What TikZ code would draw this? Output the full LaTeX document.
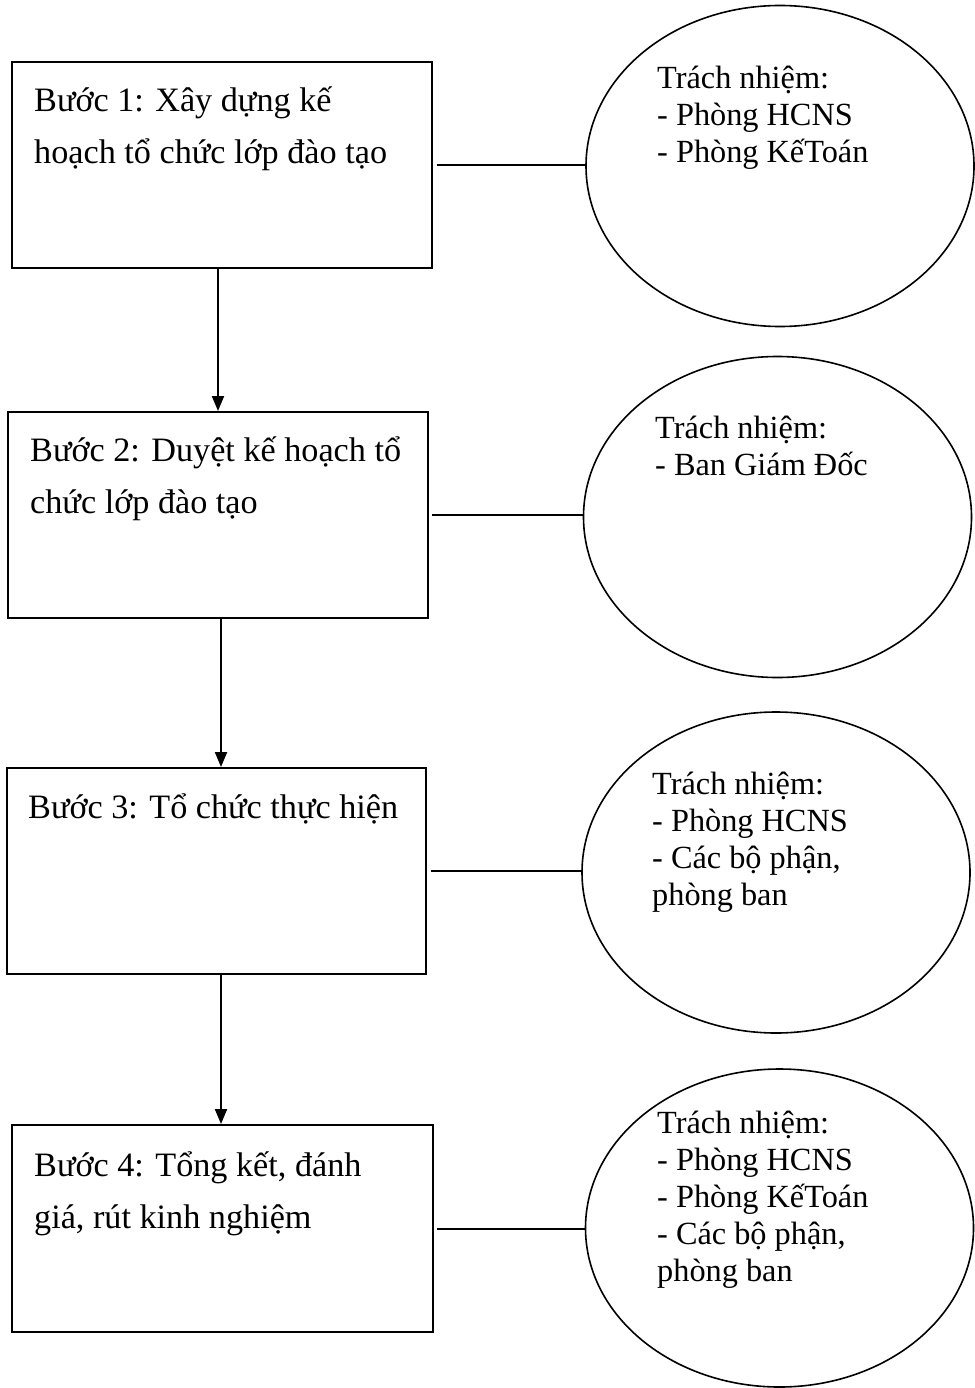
\documentclass[tikz,border=0pt]{standalone}
\usepackage{fontspec}
\setmainfont{Liberation Serif}
\usetikzlibrary{arrows.meta,shapes.geometric}
\begin{document}
\begin{tikzpicture}[x=1pt,y=-1pt,
  stepbox/.style={draw,line width=2pt,rectangle,inner sep=0pt,minimum width=420pt,minimum height=206pt},
  resp/.style={draw,line width=1.6pt,ellipse,inner sep=0pt,minimum width=388pt,minimum height=321pt},
  boxtext/.style={anchor=base west,inner sep=0pt,align=left,font=\fontsize{34.2}{52}\selectfont},
  resptext/.style={anchor=base west,inner sep=0pt,align=left,font=\fontsize{32.3}{37}\selectfont},
  link/.style={line width=2pt},
  arr/.style={line width=2pt,-{Triangle[width=12pt,length=15pt]}}]
\useasboundingbox (0,0) rectangle (974,1388);

% step boxes
\node[stepbox] (b1) at (222,165) {};
\node[stepbox] (b2) at (218,515) {};
\node[stepbox,minimum width=419pt] (b3) at (216,871) {};
\node[stepbox,minimum width=421pt,minimum height=207pt] (b4) at (222.5,1228.5) {};

% responsibility ellipses
\node[resp] (e1) at (780,166) {};
\node[resp] (e2) at (777.5,517) {};
\node[resp] (e3) at (776,872.5) {};
\node[resp,minimum height=318pt] (e4) at (779.5,1228) {};

% texts in boxes (anchored at the baseline of the last line)
\node[boxtext] (t1) at (34,164) {Bước 1: Xây dựng kế\\hoạch tổ chức lớp đào tạo};
\node[boxtext] (t2) at (30,513) {Bước 2: Duyệt kế hoạch tổ\\chức lớp đào tạo};
\node[boxtext] (t3) at (28,818) {Bước 3: Tổ chức thực hiện};
\node[boxtext] (t4) at (34,1228) {Bước 4: Tổng kết, đánh\\giá, rút kinh nghiệm};

% texts in ellipses (anchored at the baseline of the last line)
\node[resptext] (r1) at (657,163) {Trách nhiệm:\\- Phòng HCNS\\- Phòng KếToán};
\node[resptext] (r2) at (655,475) {Trách nhiệm:\\- Ban Giám Đốc};
\node[resptext] (r3) at (652,905) {Trách nhiệm:\\- Phòng HCNS\\- Các bộ phận,\\phòng ban};
\node[resptext] (r4) at (657,1281) {Trách nhiệm:\\- Phòng HCNS\\- Phòng KếToán\\- Các bộ phận,\\phòng ban};

% links box -> ellipse
\draw[link] ([xshift=4pt]b1.east) -- (b1.east -| e1.west);
\draw[link] ([xshift=3pt]b2.east) -- (b2.east -| e2.west);
\draw[link] ([xshift=4.5pt]b3.east) -- (b3.east -| e3.west);
\draw[link] ([xshift=3pt]b4.east) -- (b4.east -| e4.west);

% flow arrows
\draw[arr] (b2.north |- b1.south) -- (b2.north);
\draw[arr] ([xshift=3pt]b2.south) -- ([xshift=5pt]b3.north);
\draw[arr] ([xshift=5pt]b3.south) -- ([xshift=-1.5pt]b4.north);
\end{tikzpicture}
\end{document}
